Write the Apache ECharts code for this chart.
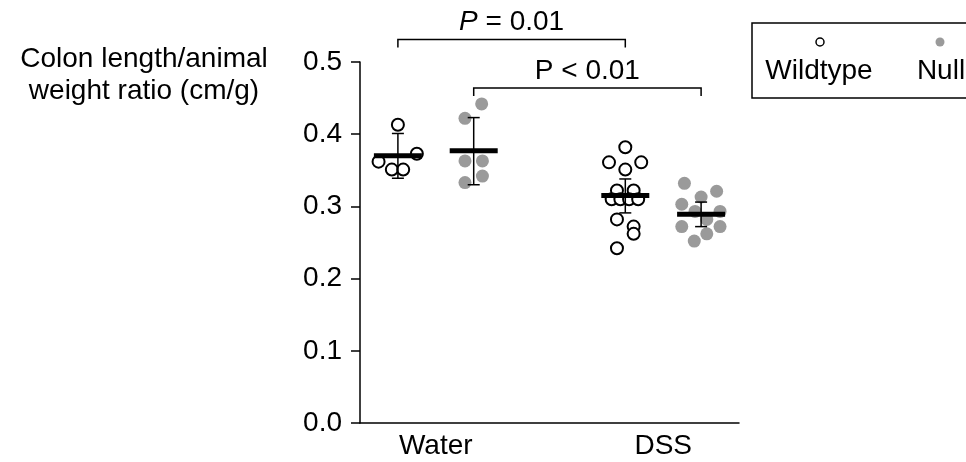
<!DOCTYPE html>
<html>
<head>
<meta charset="utf-8">
<script src="https://cdn.jsdelivr.net/npm/echarts@6/dist/echarts.min.js"></script>
<style>
  html, body { margin: 0; background: #fff; }
  #main { width: 966px; height: 462px; }
</style>
</head>
<body>
<div id="main"></div>
<script>
// categories on the x axis and their positions on a 0..10 scale
const groups = ['Water', 'DSS'];
const groupPos = [2, 8];
const genotypes = ['Wildtype', 'Null'];
const genoOffset = [-1, 1];

// colon length / weight ratios, with the horizontal jitter of each dot
const wtWater = [0.413, 0.362, 0.351, 0.351, 0.373];
const wtWaterJit = [0, -0.51, -0.16, 0.14, 0.5];
const nullWater = [0.442, 0.422, 0.363, 0.363, 0.342, 0.333];
const nullWaterJit = [0.21, -0.23, -0.23, 0.23, 0.23, -0.23];
const wtDss = [0.382, 0.361, 0.361, 0.351, 0.322, 0.322, 0.310, 0.310, 0.310, 0.310, 0.282, 0.272, 0.262, 0.242];
const wtDssJit = [0, -0.43, 0.42, 0, -0.22, 0.22, -0.36, -0.13, 0.1, 0.34, -0.22, 0.22, 0.22, -0.22];
const nullDss = [0.332, 0.321, 0.313, 0.303, 0.293, 0.293, 0.282, 0.272, 0.272, 0.262, 0.252];
const nullDssJit = [-0.44, 0.41, 0, -0.51, -0.16, 0.5, 0.15, -0.51, 0.5, 0.15, -0.18];

// mean and error bar ends: wt water, null water, wt dss, null dss
const means = [0.370, 0.377, 0.315, 0.289];
const lower = [0.339, 0.330, 0.291, 0.272];
const upper = [0.401, 0.423, 0.338, 0.306];

// significance brackets
const pLabels = ['P = 0.01', 'P < 0.01'];
const pItalic = [true, false];
const pFrom = [1, 3];
const pTo = [7, 9];
const pHeights = [0.531, 0.464];

const FONT = '"Liberation Sans", Arial, Helvetica, sans-serif';
const FS = 28;
const INK = '#000';
const GRAY = '#9a9a9a';

const sets = [
  { geno: 0, grp: 0, vals: wtWater, jit: wtWaterJit },
  { geno: 1, grp: 0, vals: nullWater, jit: nullWaterJit },
  { geno: 0, grp: 1, vals: wtDss, jit: wtDssJit },
  { geno: 1, grp: 1, vals: nullDss, jit: nullDssJit }
];

function dots(geno) {
  let out = [];
  sets.forEach(s => {
    if (s.geno !== geno) return;
    const cx = groupPos[s.grp] + genoOffset[s.geno];
    s.vals.forEach((v, i) => out.push([cx + s.jit[i], v]));
  });
  return out;
}

const summary = sets.map((s, i) => [groupPos[s.grp] + genoOffset[s.geno], means[i], lower[i], upper[i]]);
const brackets = pLabels.map((t, i) => [pFrom[i], pTo[i], pHeights[i], i]);

let chart = echarts.init(document.getElementById('main'));

let option = {
  backgroundColor: '#fff',
  animation: false,
  textStyle: { fontFamily: FONT },
  grid: { left: 360, right: 227, top: 62, bottom: 39, containLabel: false },
  xAxis: {
    type: 'value', min: 0, max: 10, interval: 1,
    axisLine: { show: true, onZero: false, lineStyle: { color: '#000', width: 1.5 } },
    axisTick: { show: false },
    splitLine: { show: false },
    axisLabel: {
      margin: 9, fontSize: FS, color: INK, fontFamily: FONT,
      formatter: v => { const k = groupPos.indexOf(v); return k >= 0 ? groups[k] : ''; }
    }
  },
  yAxis: {
    type: 'value', min: 0, max: 0.5, interval: 0.1,
    axisLine: { show: true, lineStyle: { color: '#000', width: 1.5 } },
    axisTick: { show: true, length: 9, lineStyle: { color: '#000', width: 1.5 } },
    splitLine: { show: false },
    axisLabel: { margin: 18, fontSize: FS, color: INK, fontFamily: FONT, formatter: v => v.toFixed(1) }
  },
  graphic: [
    {
      type: 'text', x: 144, y: 43,
      style: {
        text: 'Colon length/animal\nweight ratio (cm/g)', font: FS + 'px ' + FONT, fill: INK,
        align: 'center', textAlign: 'center', verticalAlign: 'top', textVerticalAlign: 'top', lineHeight: 32
      }
    },
    // legend box
    { type: 'rect', shape: { x: 752, y: 23, width: 240, height: 75 }, style: { fill: '#fff', stroke: '#000', lineWidth: 1.5 } },
    { type: 'circle', shape: { cx: 820, cy: 42, r: 4 }, style: { fill: '#fff', stroke: '#000', lineWidth: 1.5 } },
    { type: 'text', x: 819, y: 71, style: { text: genotypes[0], font: FS + 'px ' + FONT, fill: INK, align: 'center', textAlign: 'center', verticalAlign: 'middle', textVerticalAlign: 'middle' } },
    { type: 'circle', shape: { cx: 940, cy: 42, r: 4.5 }, style: { fill: GRAY } },
    { type: 'text', x: 941, y: 71, style: { text: genotypes[1], font: FS + 'px ' + FONT, fill: INK, align: 'center', textAlign: 'center', verticalAlign: 'middle', textVerticalAlign: 'middle' } }
  ],
  series: [
    {
      name: genotypes[0], type: 'scatter', data: dots(0), symbol: 'circle', symbolSize: 12,
      itemStyle: { color: '#fff', borderColor: '#000', borderWidth: 2, opacity: 1 }, z: 2
    },
    {
      name: genotypes[1], type: 'scatter', data: dots(1), symbol: 'circle', symbolSize: 13,
      itemStyle: { color: GRAY, opacity: 1 }, z: 2
    },
    {
      // mean bar + error bar
      type: 'custom', data: summary, z: 5, clip: false,
      renderItem: function (params, api) {
        const x = api.value(0);
        const m = api.coord([x, api.value(1)]);
        const lo = api.coord([x, api.value(2)]);
        const hi = api.coord([x, api.value(3)]);
        const thin = { stroke: '#000', lineWidth: 1.5 };
        return {
          type: 'group',
          children: [
            { type: 'line', shape: { x1: m[0], y1: lo[1], x2: m[0], y2: hi[1] }, style: thin },
            { type: 'line', shape: { x1: m[0] - 6, y1: lo[1], x2: m[0] + 6, y2: lo[1] }, style: thin },
            { type: 'line', shape: { x1: m[0] - 6, y1: hi[1], x2: m[0] + 6, y2: hi[1] }, style: thin },
            { type: 'line', shape: { x1: m[0] - 24, y1: m[1], x2: m[0] + 24, y2: m[1] }, style: { stroke: '#000', lineWidth: 5 } }
          ]
        };
      }
    },
    {
      // significance brackets above the plot
      type: 'custom', data: brackets, z: 5, clip: false,
      renderItem: function (params, api) {
        const a = api.coord([api.value(0), api.value(2)]);
        const b = api.coord([api.value(1), api.value(2)]);
        const k = api.value(3);
        const txt = pItalic[k] ? '{i|P} = 0.01' : pLabels[k];
        return {
          type: 'group',
          children: [
            {
              type: 'polyline',
              shape: { points: [[a[0], a[1] + 8], [a[0], a[1]], [b[0], b[1]], [b[0], b[1] + 8]] },
              style: { stroke: '#000', lineWidth: 1.5, fill: null }
            },
            {
              type: 'text',
              style: {
                text: txt, x: (a[0] + b[0]) / 2, y: a[1] - 3,
                align: 'center', verticalAlign: 'bottom', fill: INK, font: FS + 'px ' + FONT,
                rich: { i: { fontStyle: 'italic', fontSize: FS, fontFamily: FONT, fill: INK } }
              }
            }
          ]
        };
      }
    }
  ]
};

chart.setOption(option);
</script>
</body>
</html>
